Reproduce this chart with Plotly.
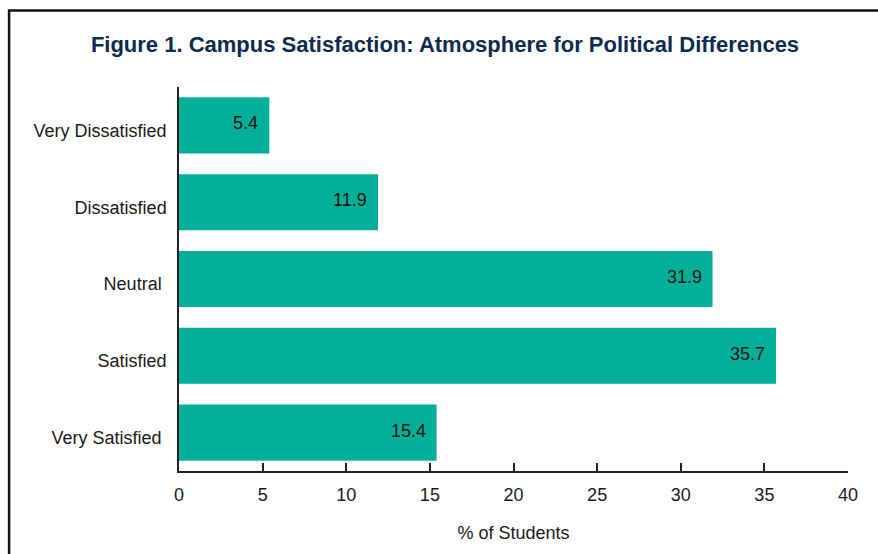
import plotly.graph_objects as go

# Survey responses (percent of students)
categories = ["Very Dissatisfied", "Dissatisfied", "Neutral ", "Satisfied", "Very Satisfied "]
values = [5.4, 11.9, 31.9, 35.7, 15.4]
x_ticks = [0, 5, 10, 15, 20, 25, 30, 35, 40]

BAR_COLOR = "#02B099"
TITLE_COLOR = "#0E2A50"
FONT = "Liberation Sans, Arial, sans-serif"
TEXT_COLOR = "#1a1a1a"

fig = go.Figure(
    go.Bar(
        x=values,
        y=categories,
        orientation="h",
        marker=dict(color=BAR_COLOR, line=dict(width=0)),
        width=0.73,
        hoverinfo="skip",
    )
)

# value labels sit inside the end of each bar
for cat, v in zip(categories, values):
    fig.add_annotation(
        x=v, y=cat, text=f"{v:.1f}", showarrow=False,
        xanchor="right", xshift=-9, yshift=2,
        font=dict(family=FONT, size=18, color="#111111"),
    )

# frame line along the left and top of the figure
fig.add_shape(
    type="path",
    xref="paper", yref="paper",
    path="M -0.2540,-0.3 L -0.2540,1.1990 L 1.2,1.1990",
    line=dict(color="#111111", width=2.5),
)

fig.update_layout(
    width=878, height=554,
    margin=dict(l=179, r=30, t=87, b=83),
    paper_bgcolor="white", plot_bgcolor="white",
    showlegend=False,
    title=dict(
        text="<b>Figure 1. Campus Satisfaction: Atmosphere for Political Differences</b>",
        x=445 / 878, xref="container", xanchor="center",
        y=1 - 44 / 554, yref="container", yanchor="middle",
        font=dict(family=FONT, size=22, color=TITLE_COLOR),
    ),
    font=dict(family=FONT, size=18, color=TEXT_COLOR),
)

fig.update_xaxes(
    range=[0, 40], tickvals=x_ticks, ticktext=[str(t) for t in x_ticks],
    showgrid=False, zeroline=False,
    showline=True, linecolor="#222222", linewidth=1.5,
    ticks="inside", ticklen=8, tickwidth=1.5, tickcolor="#222222",
    ticklabelstandoff=7,
    tickfont=dict(size=18, color=TEXT_COLOR),
    title=dict(text="% of Students", font=dict(size=18, color=TEXT_COLOR), standoff=22),
)
fig.update_yaxes(
    categoryorder="array", categoryarray=categories,
    autorange="reversed", range=[4.5, -0.5],
    showgrid=False, zeroline=False,
    showline=True, linecolor="#222222", linewidth=1.5,
    ticks="", ticklabelstandoff=7, ticklabelshift=-5,
    tickfont=dict(size=18, color=TEXT_COLOR),
)

fig.write_html("out.html")
